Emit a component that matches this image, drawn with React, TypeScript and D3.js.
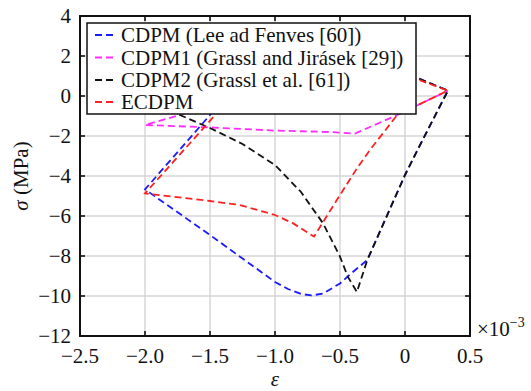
import React from "react";
import * as d3 from "d3";

// strain in 1e-3, stress in MPa
const cdpmX = [-0.05, 0.1, 0.33, 0.09, 0.0, -0.29, -0.41, -0.5, -0.63, -0.72, -0.8, -0.9, -1.0, -1.5, -2.0, -1.5, -1.3];
const cdpmY = [1.25, 0.9, 0.27, -2.78, -3.95, -8.2, -8.85, -9.37, -9.88, -9.97, -9.9, -9.65, -9.3, -6.95, -4.67, -0.95, 0.5];

const cdpm1X = [-1.2, -1.73, -2.0, -1.5, -1.0, -0.58, -0.385, -0.06, 0.33];
const cdpm1Y = [0.2, -0.95, -1.45, -1.57, -1.73, -1.8, -1.88, -0.95, 0.27];

const cdpm2X = [-0.05, 0.1, 0.33, 0.09, 0.0, -0.29, -0.37, -0.44, -0.5, -0.63, -0.8, -1.0, -1.25, -1.5, -1.75, -1.9];
const cdpm2Y = [1.2, 0.88, 0.27, -2.78, -3.95, -8.2, -9.8, -9.03, -8.03, -6.37, -4.8, -3.45, -2.4, -1.6, -0.9, -0.4];

const ecdpmX = [-0.05, 0.1, 0.33, -0.06, -0.27, -0.37, -0.5, -0.7, -0.86, -1.0, -1.27, -1.5, -2.0, -1.46, -1.3];
const ecdpmY = [1.1, 0.82, 0.27, -0.95, -2.7, -3.62, -4.95, -7.03, -6.37, -5.95, -5.45, -5.25, -4.87, -0.95, 0.3];

const xTicks = [-2.5, -2.0, -1.5, -1.0, -0.5, 0, 0.5];
const xTickLabels = ["−2.5", "−2.0", "−1.5", "−1.0", "−0.5", "0", "0.5"];
const yTicks = [4, 2, 0, -2, -4, -6, -8, -10, -12];
const yTickLabels = ["4", "2", "0", "−2", "−4", "−6", "−8", "−10", "−12"];

const seriesNames = [
  "CDPM (Lee ad Fenves [60])",
  "CDPM1 (Grassl and Jirásek [29])",
  "CDPM2 (Grassl et al. [61])",
  "ECDPM",
];
const seriesColors = ["#1a1aff", "#ff2bff", "#111111", "#ff2020"];

const W = 531;
const H = 391;
const M = { left: 80, right: 470, top: 16, bottom: 336 };
const FONT = '"Liberation Serif"';

export default function App() {
  const x = d3.scaleLinear().domain([-2.5, 0.5]).range([M.left, M.right]);
  const y = d3.scaleLinear().domain([-12, 4]).range([M.bottom, M.top]);
  const line = d3
    .line<[number, number]>()
    .x((d) => x(d[0]))
    .y((d) => y(d[1]));

  const series = [
    d3.zip(cdpmX, cdpmY),
    d3.zip(cdpm1X, cdpm1Y),
    d3.zip(cdpm2X, cdpm2Y),
    d3.zip(ecdpmX, ecdpmY),
  ] as [number, number][][];

  const tickLen = 5;
  const legend = { x: 87, y: 23, w: 329, h: 91 };
  const rowY = [35, 57.5, 80, 102];
  const ts = { fontFamily: FONT };

  return (
    <svg width={W} height={H} style={{ position: "absolute", left: 0, top: 0, background: "#fff" }}>
      <defs>
        <clipPath id="plotclip">
          <rect x={M.left} y={M.top} width={M.right - M.left} height={M.bottom - M.top} />
        </clipPath>
      </defs>
      {/* grid */}
      {xTicks.map((t, i) => (
        <line key={"gx" + i} x1={x(t)} x2={x(t)} y1={M.top} y2={M.bottom} stroke="#d6d6d6" strokeWidth={1.5} />
      ))}
      {yTicks.map((t, i) => (
        <line key={"gy" + i} x1={M.left} x2={M.right} y1={y(t)} y2={y(t)} stroke="#d6d6d6" strokeWidth={1.5} />
      ))}
      {/* data */}
      <g clipPath="url(#plotclip)">
        {series.map((s, i) => (
          <path
            key={"s" + i}
            d={line(s) || ""}
            fill="none"
            stroke={seriesColors[i]}
            strokeWidth={1.8}
            strokeDasharray="7,4"
          />
        ))}
      </g>
      {/* ticks */}
      {xTicks.map((t, i) => (
        <g key={"tx" + i}>
          <line x1={x(t)} x2={x(t)} y1={M.bottom} y2={M.bottom - tickLen} stroke="#000" strokeWidth={1.5} />
          <line x1={x(t)} x2={x(t)} y1={M.top} y2={M.top + tickLen} stroke="#000" strokeWidth={1.5} />
          <text x={x(t)} y={362.5} fontSize={21} textAnchor="middle" fill="#111" style={ts}>
            {xTickLabels[i]}
          </text>
        </g>
      ))}
      {yTicks.map((t, i) => (
        <g key={"ty" + i}>
          <line x1={M.left} x2={M.left + tickLen} y1={y(t)} y2={y(t)} stroke="#000" strokeWidth={1.5} />
          <line x1={M.right} x2={M.right - tickLen} y1={y(t)} y2={y(t)} stroke="#000" strokeWidth={1.5} />
          <text x={71} y={y(t) + 7} fontSize={21} textAnchor="end" fill="#111" style={ts}>
            {yTickLabels[i]}
          </text>
        </g>
      ))}
      {/* frame */}
      <rect
        x={M.left}
        y={M.top}
        width={M.right - M.left}
        height={M.bottom - M.top}
        fill="none"
        stroke="#111"
        strokeWidth={2}
      />
      {/* exponent */}
      <text x={477} y={335.5} fontSize={21} fill="#111" style={ts}>
        ×10
        <tspan fontSize={14} dy={-9}>−3</tspan>
      </text>
      {/* axis labels */}
      <text x={(M.left + M.right) / 2} y={386} fontSize={21} textAnchor="middle" fontStyle="italic" fill="#111" style={ts}>
        ε
      </text>
      <text
        transform={`translate(28, ${(M.top + M.bottom) / 2}) rotate(-90)`}
        fontSize={21}
        textAnchor="middle"
        fill="#111"
        style={ts}
      >
        <tspan fontStyle="italic">σ</tspan> (MPa)
      </text>
      {/* legend */}
      <rect x={legend.x} y={legend.y} width={legend.w} height={legend.h} fill="#fff" stroke="#111" strokeWidth={1.5} />
      {seriesNames.map((n, i) => (
        <g key={"lg" + i}>
          <line
            x1={95}
            x2={116}
            y1={rowY[i]}
            y2={rowY[i]}
            stroke={seriesColors[i]}
            strokeWidth={1.8}
            strokeDasharray="7,4"
          />
          <text x={121} y={rowY[i] + 7} fontSize={21} fill="#111" style={ts}>
            {n}
          </text>
        </g>
      ))}
    </svg>
  );
}
